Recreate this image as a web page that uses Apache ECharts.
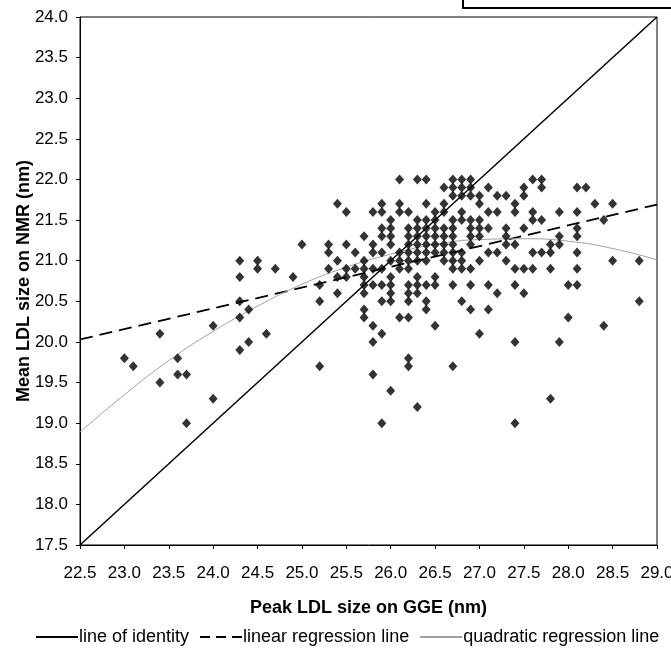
<!DOCTYPE html>
<html>
<head>
<meta charset="utf-8">
<title>LDL size</title>
<script src="https://cdn.jsdelivr.net/npm/echarts@6/dist/echarts.min.js"></script>
<style>
  html, body { margin: 0; padding: 0; background: #fff; }
  #main { width: 671px; height: 649px; }
</style>
</head>
<body>
<div id="main"></div>
<script>
// peak LDL size on GGE (x), one entry per column of points
const ggeColumns = [23.0, 23.1, 23.4, 23.6, 23.7, 24.0, 24.3, 24.4, 24.5, 24.6, 24.7, 24.9, 25.0, 25.2, 25.3, 25.4, 25.5, 25.6, 25.7, 25.8, 25.9,
  26.0, 26.1, 26.2, 26.3, 26.4, 26.5, 26.6, 26.7, 26.8, 26.9, 27.0, 27.1, 27.2, 27.3, 27.4, 27.5, 27.6, 27.7, 27.8, 27.9,
  28.0, 28.1, 28.2, 28.3, 28.4, 28.5, 28.8];

// mean LDL size on NMR (y) for each column above
const nmrByColumn = [
  [19.8], [19.7], [20.1, 19.5], [19.8, 19.6], [19.6, 19.0], [20.2, 19.3],
  [21.0, 20.8, 20.5, 20.3, 19.9], [20.4, 20.0], [21.0, 20.9], [20.1], [20.9], [20.8], [21.2],
  [20.7, 20.5, 19.7], [21.2, 21.1, 20.9], [21.7, 21.0, 20.8, 20.6], [21.6, 21.2, 20.9, 20.8], [21.1, 20.9],
  [21.3, 21.0, 20.9, 20.8, 20.7, 20.6, 20.4, 20.3],
  [21.6, 21.2, 21.1, 20.9, 20.7, 20.2, 20.0, 19.6],
  [21.7, 21.6, 21.4, 21.3, 21.1, 20.9, 20.7, 20.5, 20.1, 19.0],
  [21.5, 21.4, 21.3, 21.2, 21.0, 20.8, 20.7, 20.6, 20.5, 19.4],
  [22.0, 21.7, 21.6, 21.1, 21.0, 20.9, 20.3],
  [21.6, 21.4, 21.3, 21.2, 21.1, 21.0, 20.9, 20.7, 20.6, 20.5, 20.3, 19.8, 19.7],
  [22.0, 21.5, 21.4, 21.3, 21.2, 21.1, 21.0, 20.8, 20.7, 20.6, 19.2],
  [22.0, 21.7, 21.5, 21.4, 21.3, 21.2, 21.1, 21.0, 20.7, 20.5, 20.4],
  [21.6, 21.5, 21.4, 21.3, 21.2, 21.1, 20.8, 20.7, 20.2],
  [21.9, 21.7, 21.6, 21.4, 21.3, 21.2, 21.1, 21.0],
  [22.0, 21.9, 21.8, 21.5, 21.4, 21.3, 21.2, 21.1, 21.0, 20.9, 20.7, 19.7],
  [22.0, 21.9, 21.8, 21.6, 21.5, 21.1, 21.0, 20.9, 20.5],
  [22.0, 21.9, 21.8, 21.5, 21.4, 21.3, 21.2, 20.9, 20.7, 20.4],
  [21.8, 21.7, 21.5, 21.4, 21.3, 21.0, 20.1],
  [21.9, 21.6, 21.4, 21.1, 20.7, 20.4],
  [21.8, 21.6, 21.1, 20.6],
  [21.8, 21.4, 21.3, 21.2, 21.0],
  [21.7, 21.6, 21.2, 20.9, 20.7, 20.0, 19.0],
  [21.9, 21.8, 21.4, 20.9, 20.6],
  [22.0, 21.6, 21.5, 21.1, 20.9],
  [22.0, 21.9, 21.5, 21.1],
  [21.2, 21.1, 20.9, 19.3],
  [21.6, 21.3, 21.2, 20.0],
  [20.7, 20.3],
  [21.9, 21.6, 21.4, 21.3, 21.1, 20.9, 20.7],
  [21.9], [21.7], [21.5, 20.2], [21.7, 21.0], [21.0, 20.5]
];

const identityLine = [[22.5, 17.5], [29.0, 24.0]];
const linearLine = [[22.5, 20.03], [29.0, 21.69]];
const quadX = [22.5, 23.0, 23.5, 24.0, 24.5, 25.0, 25.5, 26.0, 26.5, 27.0, 27.5, 28.0, 28.5, 29.0];
const quadY = [18.89, 19.35, 19.77, 20.13, 20.44, 20.71, 20.92, 21.08, 21.20, 21.26, 21.27, 21.24, 21.15, 21.01];

let points = [];
ggeColumns.forEach((x, i) => {
  nmrByColumn[i].forEach(y => points.push([x, y]));
});
const quadLine = quadX.map((x, i) => [x, quadY[i]]);

const font = 'Arial, "Liberation Sans", sans-serif';
let myChart = echarts.init(document.getElementById('main'));
let option = {
  animation: false,
  textStyle: { fontFamily: font, color: '#000' },
  grid: {
    left: 80, right: 14, top: 17, bottom: 104,
    outerBoundsMode: 'none',
    show: true, borderColor: '#000', borderWidth: 1
  },
  legend: {
    top: 623,
    left: 30,
    itemWidth: 42,
    itemHeight: 12,
    itemGap: 10,
    itemStyle: { opacity: 0 },
    textStyle: { fontSize: 18, color: '#000', fontFamily: font, padding: [0, 0, 0, -4] },
    data: [
      'line of identity',
      { name: 'linear regression line', lineStyle: { type: [10, 6] } },
      'quadratic regression line'
    ]
  },
  xAxis: {
    type: 'value',
    min: 22.5, max: 29.0, interval: 0.5,
    name: 'Peak LDL size on GGE (nm)',
    nameLocation: 'middle',
    nameGap: 54,
    nameMoveOverlap: false,
    nameTextStyle: { fontSize: 18, fontWeight: 'bold', color: '#000' },
    axisLine: { lineStyle: { color: '#000' } },
    axisTick: { show: true, length: 4, lineStyle: { color: '#000' } },
    axisLabel: { fontSize: 17, color: '#000', margin: 20, formatter: v => v.toFixed(1) },
    splitLine: { show: false }
  },
  yAxis: {
    type: 'value',
    min: 17.5, max: 24.0, interval: 0.5,
    name: 'Mean LDL size on NMR (nm)',
    nameLocation: 'middle',
    nameGap: 47,
    nameMoveOverlap: false,
    nameTextStyle: { fontSize: 18, fontWeight: 'bold', color: '#000' },
    axisLine: { lineStyle: { color: '#000' } },
    axisTick: { show: true, length: 4, lineStyle: { color: '#000' } },
    axisLabel: { fontSize: 17, color: '#000', margin: 12, formatter: v => v.toFixed(1) },
    splitLine: { show: false }
  },
  graphic: [{
    type: 'rect',
    shape: { x: 463, y: -12, width: 230, height: 20 },
    style: { fill: '#fff', stroke: '#000', lineWidth: 2 }
  }],
  series: [
    {
      name: 'points',
      type: 'scatter',
      symbol: 'diamond',
      symbolSize: [9, 10],
      itemStyle: { color: '#000' },
      data: points,
      z: 3
    },
    {
      name: 'line of identity',
      type: 'line',
      symbol: 'none',
      lineStyle: { color: '#000', width: 1.5 },
      itemStyle: { color: '#000' },
      data: identityLine
    },
    {
      name: 'linear regression line',
      type: 'line',
      symbol: 'none',
      lineStyle: { color: '#000', width: 1.8, type: [13, 7] },
      itemStyle: { color: '#000' },
      data: linearLine
    },
    {
      name: 'quadratic regression line',
      type: 'line',
      symbol: 'none',
      smooth: true,
      lineStyle: { color: '#a0a0a0', width: 1 },
      itemStyle: { color: '#a0a0a0' },
      data: quadLine
    }
  ]
};
myChart.setOption(option);
</script>
</body>
</html>
